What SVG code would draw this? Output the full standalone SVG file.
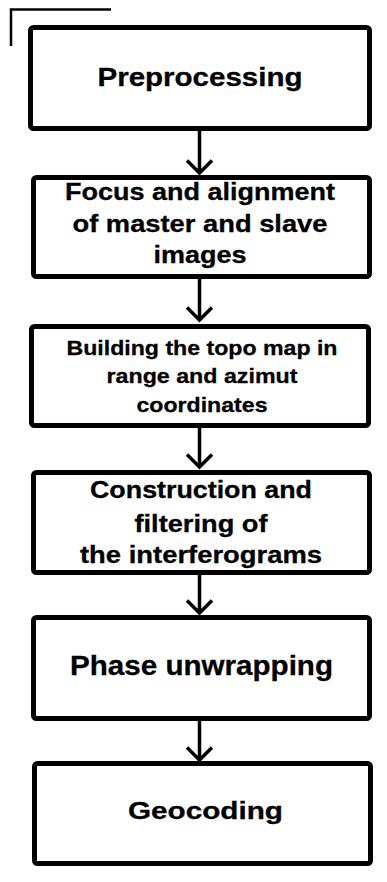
<svg xmlns="http://www.w3.org/2000/svg" width="387" height="882" viewBox="0 0 387 882">
  <style>
    .box { fill: #ffffff; stroke: #000000; stroke-width: 5; }
    .lbl { font-family: "Liberation Sans", Arial, sans-serif; font-weight: bold; fill: #000000; stroke: #000000; stroke-width: 0.3; text-anchor: middle; }
    .edge { fill: none; stroke: #000000; stroke-width: 3.5; }
    .corner { fill: none; stroke: #000000; stroke-width: 2.5; }
  </style>
  <rect width="387" height="882" fill="#ffffff"/>

  <!-- corner mark at top left -->
  <path class="corner" d="M11,46 V9.5 H111"/>

  <!-- vertical connectors with open chevron heads -->
  <g id="connectors">
    <path class="edge" d="M199.5,131 V173 M187,160.5 L199.5,173 L212,160.5"/>
    <path class="edge" d="M199.5,279 V320 M187,307.5 L199.5,320 L212,307.5"/>
    <path class="edge" d="M199.5,428 V467 M187,454.5 L199.5,467 L212,454.5"/>
    <path class="edge" d="M199.5,575 V613 M187,600.5 L199.5,613 L212,600.5"/>
    <path class="edge" d="M199.5,721 V760 M187,747.5 L199.5,760 L212,747.5"/>
  </g>

  <g id="preprocessing">
    <rect class="box" x="30.5" y="27.5" width="339" height="101" rx="3"/>
    <text class="lbl" x="200" y="86" font-size="25" textLength="205" lengthAdjust="spacingAndGlyphs">Preprocessing</text>
  </g>

  <g id="focus-alignment">
    <rect class="box" x="33.5" y="177.5" width="336" height="99" rx="3"/>
    <text class="lbl" x="200" y="200" font-size="23.5" textLength="270" lengthAdjust="spacingAndGlyphs">Focus and alignment</text>
    <text class="lbl" x="200" y="232" font-size="23.5" textLength="255" lengthAdjust="spacingAndGlyphs">of master and slave</text>
    <text class="lbl" x="200" y="263" font-size="23.5" textLength="93" lengthAdjust="spacingAndGlyphs">images</text>
  </g>

  <g id="topo-map">
    <rect class="box" x="31.5" y="326.5" width="337" height="99" rx="3"/>
    <text class="lbl" x="202" y="355" font-size="21" textLength="271" lengthAdjust="spacingAndGlyphs">Building the topo map in</text>
    <text class="lbl" x="202" y="383" font-size="21" textLength="191" lengthAdjust="spacingAndGlyphs">range and azimut</text>
    <text class="lbl" x="202" y="412" font-size="21" textLength="131" lengthAdjust="spacingAndGlyphs">coordinates</text>
  </g>

  <g id="interferograms">
    <rect class="box" x="33.5" y="472.5" width="336" height="100" rx="3"/>
    <text class="lbl" x="201" y="498" font-size="23.5" textLength="222" lengthAdjust="spacingAndGlyphs">Construction and</text>
    <text class="lbl" x="201" y="532" font-size="23.5" textLength="133" lengthAdjust="spacingAndGlyphs">filtering of</text>
    <text class="lbl" x="201" y="563" font-size="23.5" textLength="242" lengthAdjust="spacingAndGlyphs">the interferograms</text>
  </g>

  <g id="phase-unwrapping">
    <rect class="box" x="33.5" y="617.5" width="336" height="101" rx="3"/>
    <text class="lbl" x="201.5" y="675" font-size="27.5" textLength="263" lengthAdjust="spacingAndGlyphs">Phase unwrapping</text>
  </g>

  <g id="geocoding">
    <rect class="box" x="34.5" y="763.5" width="336" height="100" rx="3"/>
    <text class="lbl" x="205.5" y="819" font-size="24" textLength="155" lengthAdjust="spacingAndGlyphs">Geocoding</text>
  </g>
</svg>
